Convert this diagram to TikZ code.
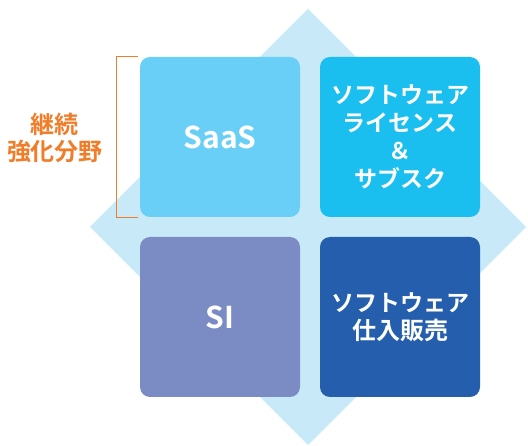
\documentclass[tikz,border=0pt]{standalone}
\usepackage{fontspec}
\setmainfont{Noto Sans CJK JP}[BoldFont={* Bold}]
\definecolor{diam}{HTML}{C8E9F8}
\definecolor{tlc}{HTML}{6ACFF6}
\definecolor{trc}{HTML}{1BBFEF}
\definecolor{blc}{HTML}{7B8CC5}
\definecolor{brc}{HTML}{245EAC}
\definecolor{orng}{HTML}{F07D2A}
\begin{document}
\begin{tikzpicture}[x=1pt,y=-1pt,
  tile/.style={rounded corners=10pt,minimum width=160pt,minimum height=160pt,inner sep=0pt,
    text=white,font=\bfseries\fontsize{23}{28}\selectfont,align=center},
  lbl/.style={text=orng,font=\bfseries\fontsize{24}{27}\selectfont,align=center}]
\useasboundingbox (0,0) rectangle (528,446);
\fill[diam] (308,9) -- (526,227) -- (308,445) -- (90,227) -- cycle;
\node[tile,fill=tlc] (saas) at (220,137) {\fontsize{30}{30}\selectfont SaaS};
\node[tile,fill=trc] (lic) at (400,137) {ソフトウェア\\ライセンス\\＆\\サブスク};
\node[tile,fill=blc] (si) at (220,317) {\fontsize{30}{30}\selectfont SI};
\node[tile,fill=brc] (resale) at (400,317) {ソフトウェア\\\fontsize{24}{28}\selectfont 仕入販売};
\coordinate (bt) at (138,57);
\coordinate (bb) at (138,218);
\draw[orng,line width=1pt] (bt) -- (116,57) -- (116,218) -- (bb);
\node[lbl] (focus) at (55,138) {継続\\強化分野};
\end{tikzpicture}
\end{document}
